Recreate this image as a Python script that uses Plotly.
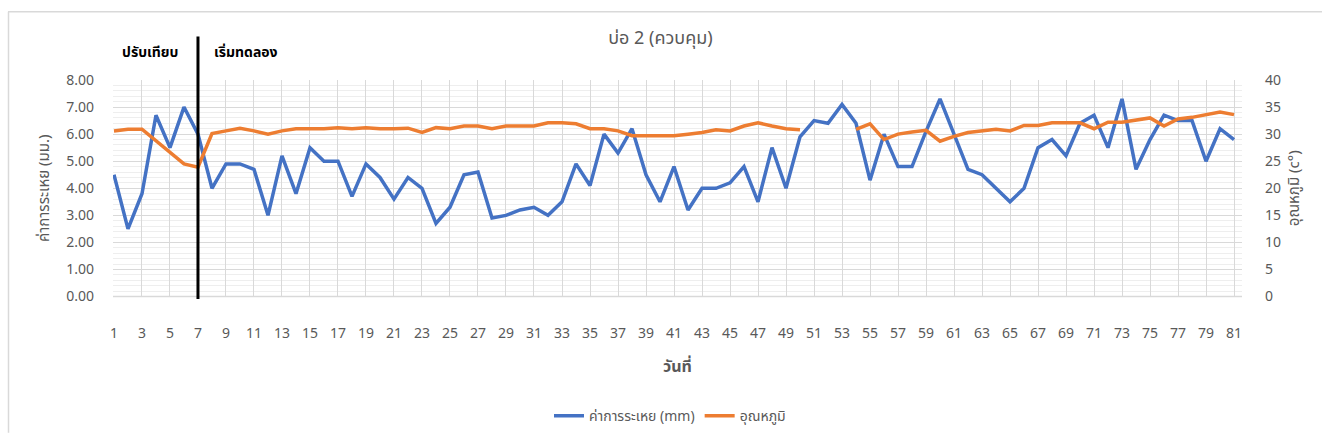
import plotly.graph_objects as go

days = list(range(1, 82))
evaporation = [4.5, 2.5, 3.8, 6.7, 5.5, 7.0, 6.0, 4.0, 4.9, 4.9,
               4.7, 3.0, 5.2, 3.8, 5.5, 5.0, 5.0, 3.7, 4.9, 4.4,
               3.6, 4.4, 4.0, 2.7, 3.3, 4.5, 4.6, 2.9, 3.0, 3.2,
               3.3, 3.0, 3.5, 4.9, 4.1, 6.0, 5.3, 6.2, 4.5, 3.5,
               4.8, 3.2, 4.0, 4.0, 4.2, 4.8, 3.5, 5.5, 4.0, 5.9,
               6.5, 6.4, 7.1, 6.4, 4.3, 6.0, 4.8, 4.8, 6.1, 7.3,
               6.0, 4.7, 4.5, 4.0, 3.5, 4.0, 5.5, 5.8, 5.2, 6.4,
               6.7, 5.5, 7.3, 4.7, 5.8, 6.7, 6.5, 6.5, 5.0, 6.2,
               5.8]
temperature = [30.6, 30.9, 30.9, 28.8, 26.6, 24.5, 23.9, 30.1, 30.6, 31.1,
               30.6, 30.0, 30.6, 31.0, 31.0, 31.0, 31.2, 31.0, 31.2, 31.0,
               31.0, 31.1, 30.3, 31.2, 31.0, 31.5, 31.5, 31.0, 31.5, 31.5,
               31.5, 32.1, 32.1, 31.9, 31.0, 31.0, 30.6, 29.7, 29.7, 29.6,
               29.7, 30.0, 30.3, 30.8, 30.6, 31.5, 32.1, 31.5, 31.0, 30.8,
               None, None, None, 30.9, 31.9, 29.0, 30.0, 30.4, 30.7, 28.7,
               29.6, 30.3, 30.6, 30.9, 30.6, 31.6, 31.6, 32.1, 32.1, 32.1,
               31.0, 32.2, 32.2, 32.6, 33.0, 31.5, 32.8, 33.1, 33.6, 34.1,
               33.6]

title_text = "บ่อ 2 (ควบคุม)"
series_names = ["ค่าการระเหย (mm)", "อุณหภูมิ"]
left_title = "ค่าการระเหย (มม.)"
right_title = "อุณหภูมิ (c°)"
x_title = "วันที่"
phase_labels = ["ปรับเทียบ", "เริ่มทดลอง"]
phase_day = 7

FONT = "Noto Sans Thai, Leelawadee UI, Tahoma, Noto Sans, DejaVu Sans, sans-serif"
GREY = "#595959"

W, H = 1322, 444
L, R, T, B = 113, 80, 80, 10
PLOT_BOTTOM = 303.5
pw, ph = W - L - R, H - T - B

def px_x(x):
    return (x - L) / pw

def px_y(y):
    return (H - B - y) / ph

y_dom = [px_y(PLOT_BOTTOM), 1]

fig = go.Figure()
fig.add_trace(go.Scatter(x=days, y=evaporation, name=series_names[0], mode="lines",
                         line=dict(color="#4472C4", width=3.5), yaxis="y"))
fig.add_trace(go.Scatter(x=days, y=temperature, name=series_names[1], mode="lines",
                         line=dict(color="#ED7D31", width=3.5), yaxis="y2",
                         connectgaps=False))

fig.update_layout(
    width=W, height=H,
    margin=dict(l=L, r=R, t=T, b=B),
    paper_bgcolor="white", plot_bgcolor="white",
    font=dict(family=FONT, color=GREY, size=14),
    title=dict(text=title_text, x=px_x(677), xanchor="center", y=1 - 38 / H, yanchor="middle",
               font=dict(size=18, color=GREY)),
    showlegend=True,
    legend=dict(orientation="h", x=px_x(670), xanchor="center", y=px_y(427), yanchor="middle",
                font=dict(size=14, color=GREY), itemwidth=30),
    xaxis=dict(range=[0.93, 81.57], tick0=1, dtick=2, showgrid=True, gridcolor="#d9d9d9",
               gridwidth=1, zeroline=False, showline=False, ticks="",
               tickfont=dict(size=14, color=GREY), ticklabelstandoff=26,
               title=dict(text="<b>" + x_title + "</b>", font=dict(size=16, color=GREY), standoff=18)),
    yaxis=dict(domain=y_dom, range=[0, 8], dtick=1, tickformat=".2f", showgrid=True,
               gridcolor="#d9d9d9", zeroline=False, showline=False, ticks="", ticklabelstandoff=18,
               tickfont=dict(size=14, color=GREY),
               minor=dict(dtick=0.2, showgrid=True, gridcolor="#eeeeee", gridwidth=1),
               title=dict(text=left_title, font=dict(size=15, color=GREY), standoff=12)),
    yaxis2=dict(range=[0, 40], dtick=5, overlaying="y", side="right", showgrid=False,
                zeroline=False, showline=False, ticks="", ticklabelstandoff=22,
                tickfont=dict(size=14, color=GREY),
                title=dict(text=right_title, font=dict(size=15, color=GREY), standoff=8)),
)

# bottom axis line
fig.add_shape(type="line", xref="paper", yref="paper", x0=0, x1=1,
              y0=px_y(PLOT_BOTTOM), y1=px_y(PLOT_BOTTOM),
              line=dict(color="#d9d9d9", width=1.5))
# phase divider
fig.add_shape(type="line", xref="x", yref="paper", x0=phase_day, x1=phase_day,
              y0=px_y(306), y1=px_y(35), line=dict(color="black", width=3))
# outer frame (top and left)
fig.add_shape(type="line", xref="paper", yref="paper", x0=px_x(8), x1=px_x(1322),
              y0=px_y(9.5), y1=px_y(9.5), line=dict(color="#d9d9d9", width=1.5))
fig.add_shape(type="line", xref="paper", yref="paper", x0=px_x(8.5), x1=px_x(8.5),
              y0=px_y(9.5), y1=px_y(444), line=dict(color="#d9d9d9", width=1.5))

fig.add_annotation(text="<b>" + phase_labels[0] + "</b>", xref="paper", yref="paper",
                   x=px_x(150), y=px_y(52), showarrow=False, xanchor="center", yanchor="middle",
                   font=dict(size=14, color="black"))
fig.add_annotation(text="<b>" + phase_labels[1] + "</b>", xref="paper", yref="paper",
                   x=px_x(246), y=px_y(52), showarrow=False, xanchor="center", yanchor="middle",
                   font=dict(size=14, color="black"))

fig.write_html("out.html", config={"displayModeBar": False},
               post_script="document.body.style.margin='0';document.body.style.padding='0';")
